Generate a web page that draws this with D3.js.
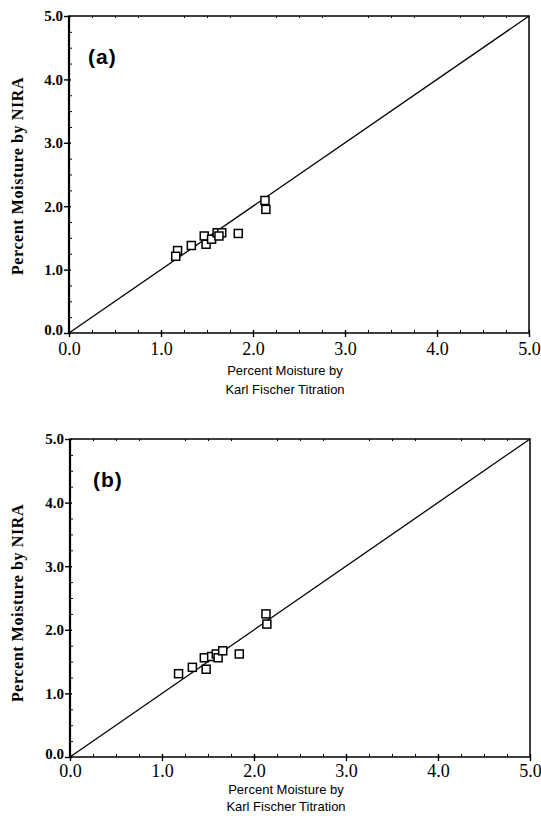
<!DOCTYPE html>
<html><head><meta charset="utf-8">
<script src="https://cdn.jsdelivr.net/npm/d3@7"></script>
<style>body{margin:0;background:#fff}</style></head>
<body><svg id="c" width="541" height="820"></svg>
<script>
const panelLabels = ["(a)", "(b)"];
const kfA   = [2.13, 2.14, 1.18, 1.16, 1.33, 1.47, 1.49, 1.55, 1.61, 1.66, 1.63, 1.84];
const niraA = [2.09, 1.95, 1.30, 1.21, 1.38, 1.53, 1.40, 1.48, 1.58, 1.58, 1.53, 1.57];
const kfB   = [2.13, 2.14, 1.18, 1.33, 1.46, 1.48, 1.54, 1.59, 1.61, 1.66, 1.84];
const niraB = [2.25, 2.09, 1.31, 1.41, 1.56, 1.38, 1.58, 1.62, 1.56, 1.67, 1.62];
const majorTicks = [0, 1, 2, 3, 4, 5];
const tickLabels = ["0.0", "1.0", "2.0", "3.0", "4.0", "5.0"];
const xTitle = ["Percent Moisture by", "Karl Fischer Titration"];
const yTitle = "Percent Moisture by NIRA";

const svg = d3.select("#c");
const serif = "'Liberation Serif','Times New Roman',serif";
const sans = "'Liberation Sans',Arial,sans-serif";

function panel(box, xs, ys, label, labelPos, labelOffset, titleY, yTitleY) {
  const x = d3.scaleLinear().domain([0, 5]).range([box.left, box.right]);
  const y = d3.scaleLinear().domain([0, 5]).range([box.bottom, box.top]);
  const g = svg.append("g");
  const minor = d3.range(0, 5.001, 0.25).filter(v => Math.abs(v - Math.round(v)) > 1e-6);

  // minor ticks (inward)
  const mb = g.append("g").attr("transform", `translate(0,${box.bottom})`)
    .call(d3.axisBottom(x).tickValues(minor).tickSize(-3).tickFormat(""));
  const ml = g.append("g").attr("transform", `translate(${box.left},0)`)
    .call(d3.axisLeft(y).tickValues(minor).tickSize(-3).tickFormat(""));
  const mt = g.append("g").attr("transform", `translate(0,${box.top})`)
    .call(d3.axisTop(x).tickValues(minor).tickSize(-2).tickFormat(""));
  [mb, ml, mt].forEach(a => { a.select(".domain").remove(); a.selectAll("line").attr("stroke", "#000").attr("stroke-width", 1); });

  // major axes
  const xb = g.append("g").attr("transform", `translate(0,${box.bottom})`)
    .call(d3.axisBottom(x).tickValues(majorTicks).tickSize(4).tickFormat((d, i) => tickLabels[i]));
  xb.select(".domain").remove();
  xb.selectAll("line").attr("y1", -3).attr("stroke-width", 1.4);
  xb.selectAll("text").attr("y", labelOffset).attr("dy", "0.71em")
    .attr("font-family", serif).attr("font-size", 18).attr("fill", "#000");

  const yl = g.append("g").attr("transform", `translate(${box.left},0)`)
    .call(d3.axisLeft(y).tickValues(majorTicks).tickSize(5).tickFormat((d, i) => tickLabels[i]));
  yl.select(".domain").remove();
  yl.selectAll("line").attr("x1", 2).attr("stroke-width", 1.4);
  yl.selectAll("text").attr("x", -6)
    .attr("dy", d => d === 0 ? "0.1em" : "0.32em")
    .attr("font-family", serif).attr("font-weight", "bold").attr("font-size", 15).attr("fill", "#000");

  // frame
  g.append("rect").attr("x", box.left).attr("y", box.top)
    .attr("width", box.right - box.left).attr("height", box.bottom - box.top)
    .attr("fill", "none").attr("stroke", "#000").attr("stroke-width", 1.5);
  g.append("line").attr("x1", box.left).attr("x2", box.left)
    .attr("y1", box.top).attr("y2", box.bottom).attr("stroke", "#000").attr("stroke-width", 2.2);

  // 1:1 line
  g.append("line").attr("x1", x(0)).attr("y1", y(0)).attr("x2", x(5)).attr("y2", y(5))
    .attr("stroke", "#000").attr("stroke-width", 1.3);

  // points
  const s = 8;
  g.selectAll("rect.pt").data(xs.map((v, i) => [v, ys[i]])).join("rect").attr("class", "pt")
    .attr("x", d => x(d[0]) - s / 2).attr("y", d => y(d[1]) - s / 2)
    .attr("width", s).attr("height", s)
    .attr("fill", "#fff").attr("stroke", "#000").attr("stroke-width", 1.5);

  // panel label
  g.append("text").attr("x", labelPos[0]).attr("y", labelPos[1])
    .attr("font-family", sans).attr("font-weight", "bold").attr("font-size", 21)
    .attr("letter-spacing", 1).text(label);

  // x title
  const cx = (box.left + box.right) / 2 - 14;
  xTitle.forEach((t, i) => {
    g.append("text").attr("x", cx).attr("y", titleY[i]).attr("text-anchor", "middle")
      .attr("font-family", sans).attr("font-size", 13).text(t);
  });

  // y title
  g.append("text").attr("transform", `translate(23,${yTitleY}) rotate(-90)`)
    .attr("text-anchor", "middle").attr("font-family", serif).attr("font-weight", "bold")
    .attr("font-size", 16).attr("letter-spacing", 0.6).text(yTitle);
}

panel({left: 69, right: 529, top: 16, bottom: 333}, kfA, niraA, panelLabels[0], [88, 64], 9, [375, 394], 176);
panel({left: 70, right: 530, top: 439, bottom: 757}, kfB, niraB, panelLabels[1], [93, 487], 7, [794, 811], 603);
</script>
</body></html>
